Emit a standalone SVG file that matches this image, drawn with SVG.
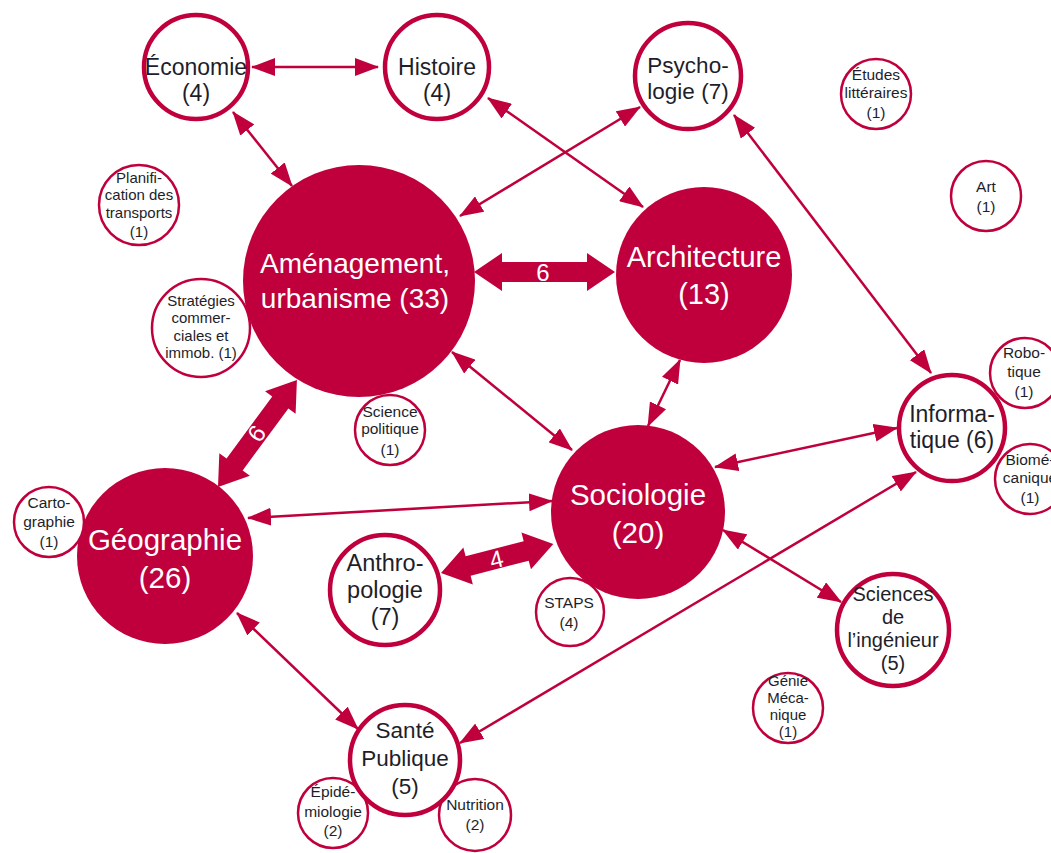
<svg xmlns="http://www.w3.org/2000/svg" width="1051" height="853" viewBox="0 0 1051 853">
<style>
.bg{fill:#ffffff}
.filled{fill:#c0003c;stroke:none}
.big{fill:#ffffff;stroke:#c0003c;stroke-width:4.5}
.small{fill:#ffffff;stroke:#c0003c;stroke-width:2.5}
.lk{stroke:#c0003c;stroke-width:2.5;fill:none;marker-start:url(#ah);marker-end:url(#ah)}
.blk{fill:#c0003c}
text{font-family:"Liberation Sans",Arial,sans-serif;text-anchor:middle}
.wt{fill:#ffffff}
.dk{fill:#1e1e2a}
</style>
<defs>
<marker id="ah" markerUnits="userSpaceOnUse" markerWidth="24" markerHeight="18" refX="23" refY="9" orient="auto-start-reverse" viewBox="0 0 24 18">
<path d="M0,0 L24,9 L0,18 z" fill="#c0003c"/>
</marker>
</defs>
<rect class="bg" x="0" y="0" width="1051" height="853"/>

<g id="connectors">
<line class="lk" x1="252" y1="67" x2="378" y2="67"/>
<line class="lk" x1="233" y1="112" x2="292" y2="186"/>
<line class="lk" x1="488" y1="98" x2="643" y2="207"/>
<line class="lk" x1="640" y1="107" x2="460" y2="216"/>
<line class="lk" x1="734" y1="115" x2="931" y2="373"/>
<line class="lk" x1="452" y1="352" x2="572" y2="450"/>
<line class="lk" x1="680" y1="360" x2="648" y2="426"/>
<line class="lk" x1="715" y1="467" x2="897" y2="428"/>
<line class="lk" x1="248" y1="518" x2="552" y2="501"/>
<line class="lk" x1="723" y1="530" x2="841" y2="602"/>
<line class="lk" x1="916" y1="472" x2="460" y2="743"/>
<line class="lk" x1="237" y1="613" x2="358" y2="729"/>
<g id="arrow6" transform="translate(474,272)">
<polygon class="blk" points="0,0 28,-19 28,-10 113,-10 113,-19 141,0 113,19 113,10 28,10 28,19"/>
<text class="wt" x="69" y="9" font-size="24">6</text>
</g>
<g id="arrow9" transform="translate(218,487) rotate(-53.6)">
<polygon class="blk" points="0,0 28,-19 28,-10 105,-10 105,-19 133,0 105,19 105,10 28,10 28,19"/>
<text class="wt" transform="translate(66,0) rotate(180)" x="0" y="9" font-size="24">9</text>
</g>
<g id="arrow4" transform="translate(441,573) rotate(-14.5)">
<polygon class="blk" points="0,0 28,-19 28,-10 88,-10 88,-19 116,0 88,19 88,10 28,10 28,19"/>
<text class="wt" x="57" y="9" font-size="24">4</text>
</g>
</g>

<g id="amenagement"><circle class="filled" cx="359" cy="281" r="116"/><text class="wt" font-size="28" x="355" y="273">Aménagement,</text><text class="wt" font-size="28" x="355" y="308">urbanisme (33)</text></g>
<g id="architecture"><circle class="filled" cx="704" cy="275" r="88"/><text class="wt" font-size="29" x="704" y="267">Architecture</text><text class="wt" font-size="29" x="704" y="304">(13)</text></g>
<g id="sociologie"><circle class="filled" cx="638" cy="512" r="87"/><text class="wt" font-size="29.5" x="638" y="505">Sociologie</text><text class="wt" font-size="29.5" x="638" y="543">(20)</text></g>
<g id="geographie"><circle class="filled" cx="165" cy="556" r="88"/><text class="wt" font-size="29.5" x="165" y="550">Géographie</text><text class="wt" font-size="29.5" x="165" y="588">(26)</text></g>

<g id="planification"><circle class="small" cx="139" cy="205" r="40"/><text class="dk" font-size="15" x="139" y="183">Planifi-</text><text class="dk" font-size="15" x="139" y="200">cation des</text><text class="dk" font-size="15" x="139" y="218">transports</text><text class="dk" font-size="15" x="139" y="237">(1)</text></g>
<g id="strategies"><circle class="small" cx="201" cy="328" r="49"/><text class="dk" font-size="15" x="201" y="306">Stratégies</text><text class="dk" font-size="15" x="201" y="323">commer-</text><text class="dk" font-size="15" x="201" y="341">ciales et</text><text class="dk" font-size="15" x="201" y="358">immob. (1)</text></g>
<g id="etudes"><circle class="small" cx="876" cy="94" r="35"/><text class="dk" font-size="15.5" x="876" y="80">Études</text><text class="dk" font-size="15.5" x="876" y="98">littéraires</text><text class="dk" font-size="15.5" x="876" y="118">(1)</text></g>
<g id="art"><circle class="small" cx="986" cy="196" r="35"/><text class="dk" font-size="15.5" x="986" y="192">Art</text><text class="dk" font-size="15.5" x="986" y="212">(1)</text></g>
<g id="robotique"><circle class="small" cx="1025" cy="373" r="35"/><text class="dk" font-size="15.5" x="1024" y="358">Robo-</text><text class="dk" font-size="15.5" x="1024" y="377">tique</text><text class="dk" font-size="15.5" x="1024" y="397">(1)</text></g>
<g id="biomecanique"><circle class="small" cx="1030" cy="479" r="35"/><text class="dk" font-size="15.5" x="1030" y="465">Biomé-</text><text class="dk" font-size="15.5" x="1030" y="483">canique</text><text class="dk" font-size="15.5" x="1030" y="503">(1)</text></g>
<g id="sciencepolitique"><circle class="small" cx="390" cy="430" r="35"/><text class="dk" font-size="15.5" x="390" y="417">Science</text><text class="dk" font-size="15.5" x="390" y="434">politique</text><text class="dk" font-size="15.5" x="390" y="455">(1)</text></g>
<g id="staps"><circle class="small" cx="570" cy="612" r="34"/><text class="dk" font-size="15.5" x="569" y="608">STAPS</text><text class="dk" font-size="15.5" x="569" y="628">(4)</text></g>
<g id="cartographie"><circle class="small" cx="49" cy="522" r="35"/><text class="dk" font-size="15.5" x="49" y="508">Carto-</text><text class="dk" font-size="15.5" x="49" y="527">graphie</text><text class="dk" font-size="15.5" x="49" y="547">(1)</text></g>
<g id="epidemiologie"><circle class="small" cx="333" cy="813" r="35"/><text class="dk" font-size="15.5" x="333" y="797">Épidé-</text><text class="dk" font-size="15.5" x="333" y="817">miologie</text><text class="dk" font-size="15.5" x="333" y="836">(2)</text></g>
<g id="nutrition"><circle class="small" cx="475" cy="815" r="36"/><text class="dk" font-size="15.5" x="475" y="810">Nutrition</text><text class="dk" font-size="15.5" x="475" y="830">(2)</text></g>
<g id="geniemecanique"><circle class="small" cx="788" cy="708" r="35"/><text class="dk" font-size="15" x="788" y="686">Génie</text><text class="dk" font-size="15" x="788" y="703">Méca-</text><text class="dk" font-size="15" x="788" y="720">nique</text><text class="dk" font-size="15" x="788" y="737">(1)</text></g>

<g id="economie"><circle class="big" cx="196" cy="67" r="52"/><text class="dk" font-size="23" x="196" y="75">Économie</text><text class="dk" font-size="23" x="196" y="101">(4)</text></g>
<g id="histoire"><circle class="big" cx="437" cy="67" r="52"/><text class="dk" font-size="23" x="437" y="75">Histoire</text><text class="dk" font-size="23" x="437" y="101">(4)</text></g>
<g id="psychologie"><circle class="big" cx="688" cy="76" r="53"/><text class="dk" font-size="22.5" x="688" y="73">Psycho-</text><text class="dk" font-size="22.5" x="688" y="99">logie (7)</text></g>
<g id="informatique"><circle class="big" cx="952" cy="428" r="53"/><text class="dk" font-size="23" x="952" y="422">Informa-</text><text class="dk" font-size="23" x="952" y="448">tique (6)</text></g>
<g id="anthropologie"><circle class="big" cx="385" cy="590" r="55"/><text class="dk" font-size="23.5" x="385" y="571">Anthro-</text><text class="dk" font-size="23.5" x="385" y="598">pologie</text><text class="dk" font-size="23.5" x="385" y="625">(7)</text></g>
<g id="santepublique"><circle class="big" cx="405" cy="760" r="55"/><text class="dk" font-size="22.5" x="405" y="738">Santé</text><text class="dk" font-size="22.5" x="405" y="766">Publique</text><text class="dk" font-size="22.5" x="405" y="794">(5)</text></g>
<g id="sciencesingenieur"><circle class="big" cx="893" cy="630" r="56"/><text class="dk" font-size="20" x="893" y="601">Sciences</text><text class="dk" font-size="20" x="893" y="624">de</text><text class="dk" font-size="20" x="893" y="647">l’ingénieur</text><text class="dk" font-size="20" x="893" y="670">(5)</text></g>
</svg>
